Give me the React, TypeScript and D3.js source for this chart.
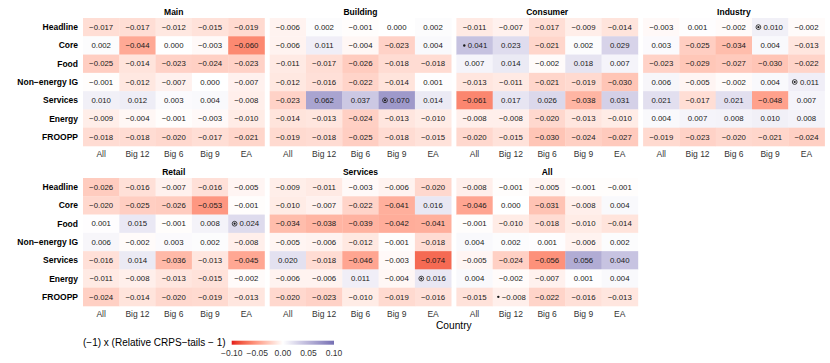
// heatmap of relative CRPS-tails by sector panel, drawn with d3 inside react
import * as d3 from "d3";
import { useRef, useEffect } from "react";

// column and row categories
const countries = ["All", "Big 12", "Big 6", "Big 9", "EA"];
const variables = ["Headline", "Core", "Food", "Non\u2212energy IG", "Services", "Energy", "FROOPP"];
const panels = ["Main", "Building", "Consumer", "Industry", "Retail", "Services", "All"];

// values per panel, rows = variables, columns = countries
const mainValues = [
  [-0.017, -0.017, -0.012, -0.015, -0.019],
  [0.002, -0.044, 0.0, -0.003, -0.06],
  [-0.025, -0.014, -0.023, -0.024, -0.023],
  [-0.001, -0.012, -0.007, 0.0, -0.007],
  [0.01, 0.012, 0.003, 0.004, -0.008],
  [-0.009, -0.004, -0.001, -0.003, -0.01],
  [-0.018, -0.018, -0.02, -0.017, -0.021],
];
const buildingValues = [
  [-0.006, 0.002, -0.001, 0.0, 0.002],
  [-0.006, 0.011, -0.004, -0.023, 0.004],
  [-0.011, -0.017, -0.026, -0.018, -0.018],
  [-0.012, -0.016, -0.022, -0.014, 0.001],
  [-0.023, 0.062, 0.037, 0.07, 0.014],
  [-0.014, -0.013, -0.024, -0.013, -0.01],
  [-0.019, -0.018, -0.025, -0.018, -0.015],
];
const consumerValues = [
  [-0.011, -0.007, -0.017, -0.009, -0.014],
  [0.041, 0.023, -0.021, 0.002, 0.029],
  [0.007, 0.014, -0.002, 0.018, 0.007],
  [-0.013, -0.011, -0.021, -0.019, -0.03],
  [-0.061, 0.017, 0.026, -0.038, 0.031],
  [-0.008, -0.008, -0.02, -0.013, -0.01],
  [-0.02, -0.015, -0.03, -0.024, -0.027],
];
const industryValues = [
  [-0.003, 0.001, -0.002, 0.01, -0.002],
  [0.003, -0.025, -0.034, 0.004, -0.013],
  [-0.023, -0.029, -0.027, -0.03, -0.022],
  [0.006, -0.005, -0.002, 0.004, 0.011],
  [0.021, -0.017, 0.021, -0.048, 0.007],
  [0.004, 0.007, 0.008, 0.01, 0.008],
  [-0.019, -0.023, -0.02, -0.021, -0.024],
];
const retailValues = [
  [-0.026, -0.016, -0.007, -0.016, -0.005],
  [-0.02, -0.025, -0.026, -0.053, -0.001],
  [0.001, 0.015, -0.001, 0.008, 0.024],
  [0.006, -0.002, 0.003, 0.002, -0.008],
  [-0.016, 0.014, -0.036, -0.013, -0.045],
  [-0.011, -0.008, -0.013, -0.015, -0.002],
  [-0.024, -0.014, -0.02, -0.019, -0.013],
];
const servicesValues = [
  [-0.009, -0.011, -0.003, -0.006, -0.02],
  [-0.01, -0.007, -0.022, -0.041, 0.016],
  [-0.034, -0.038, -0.039, -0.042, -0.041],
  [-0.005, -0.006, -0.012, -0.001, -0.018],
  [0.02, -0.018, -0.046, -0.003, -0.074],
  [-0.006, -0.006, 0.011, -0.004, 0.016],
  [-0.02, -0.023, -0.01, -0.019, -0.016],
];
const allValues = [
  [-0.008, -0.001, -0.005, -0.001, -0.001],
  [-0.046, 0.0, -0.031, -0.008, 0.004],
  [-0.001, -0.01, -0.018, -0.01, -0.014],
  [0.004, 0.002, 0.001, -0.006, 0.002],
  [-0.005, -0.024, -0.056, 0.056, 0.04],
  [0.004, -0.002, -0.007, 0.001, 0.004],
  [-0.015, -0.008, -0.022, -0.016, -0.013],
];

// significance markers: [panel, variable, country]
const circleMarks = [
  ["Building", "Services", "Big 9"],
  ["Industry", "Headline", "Big 9"],
  ["Industry", "Non\u2212energy IG", "EA"],
  ["Retail", "Food", "EA"],
  ["Services", "Energy", "EA"],
];
const dotMarks = [
  ["Consumer", "Core", "All"],
  ["All", "FROOPP", "Big 12"],
];

const legendTicks = [-0.1, -0.05, 0, 0.05, 0.1];

const valuesByPanel = [mainValues, buildingValues, consumerValues, industryValues, retailValues, servicesValues, allValues];

export default function App() {
  const svgRef = useRef(null);

  useEffect(() => {
    const svg = d3.select(svgRef.current);
    svg.selectAll("*").remove();

    const font = "'Liberation Sans', Arial, Helvetica, sans-serif";
    const panelW = 181.5;
    const panelH = 128;
    const left = 83;
    const stepX = 186.7;
    const tops = [18, 178];

    // diverging colour scale red - white - purple
    const color = d3.scaleLinear<string>()
      .domain([-0.1, 0, 0.1])
      .range(["#E41A1C", "#ffffff", "#7570B3"])
      .interpolate(d3.interpolateLab)
      .clamp(true);

    const fmt = d3.format(".3f");
    const cellFs = 7.8;

    panels.forEach((name, i) => {
      const col = i % 4;
      const row = Math.floor(i / 4);
      const px = left + col * stepX;
      const py = tops[row];
      const x = d3.scaleBand().domain(countries).range([px, px + panelW]);
      const y = d3.scaleBand().domain(variables).range([py, py + panelH]);
      const vals = valuesByPanel[i];
      const cells = variables.flatMap((v, r) => countries.map((c, k) => ({ v, c, value: vals[r][k] })));

      const g = svg.append("g");

      g.selectAll("rect").data(cells).enter().append("rect")
        .attr("x", d => x(d.c))
        .attr("y", d => y(d.v))
        .attr("width", x.bandwidth() + 0.3)
        .attr("height", y.bandwidth() + 0.3)
        .attr("fill", d => color(d.value));

      cells.forEach(d => {
        const cx = x(d.c) + x.bandwidth() / 2;
        const cy = y(d.v) + y.bandwidth() / 2;
        const isCircle = circleMarks.some(m => m[0] === name && m[1] === d.v && m[2] === d.c);
        const isDot = dotMarks.some(m => m[0] === name && m[1] === d.v && m[2] === d.c);
        const shift = isCircle || isDot ? 3 : 0;
        const txt = fmt(d.value);
        g.append("text")
          .attr("x", cx + shift).attr("y", cy).attr("dy", "0.35em")
          .attr("text-anchor", "middle")
          .style("font-family", font).style("font-size", cellFs + "px")
          .attr("fill", "#1a1a1a")
          .text(txt);
        const w = (d.value < 0 ? 3.086 : 2.5) * cellFs;
        if (isCircle) {
          const mx = cx + shift - w / 2 - 5;
          g.append("circle").attr("cx", mx).attr("cy", cy).attr("r", 2.4)
            .attr("fill", "none").attr("stroke", "#1a1a1a").attr("stroke-width", 0.8);
          g.append("circle").attr("cx", mx).attr("cy", cy).attr("r", 1.1).attr("fill", "#1a1a1a");
        }
        if (isDot) {
          const mx = cx + shift - w / 2 - 3.5;
          g.append("circle").attr("cx", mx).attr("cy", cy).attr("r", 1.2).attr("fill", "#1a1a1a");
        }
      });

      // strip title
      g.append("text")
        .attr("x", px + panelW / 2).attr("y", py - 3.2)
        .attr("text-anchor", "middle")
        .style("font-family", font).style("font-size", "8.5px").style("font-weight", "700")
        .text(name);

      // x labels under each panel
      countries.forEach(c => {
        g.append("text")
          .attr("x", x(c) + x.bandwidth() / 2).attr("y", py + panelH + 11)
          .attr("text-anchor", "middle")
          .style("font-family", font).style("font-size", "8.5px")
          .attr("fill", "#333")
          .text(c);
      });

      // row labels only on first column
      if (col === 0) {
        variables.forEach(v => {
          g.append("text")
            .attr("x", 78).attr("y", y(v) + y.bandwidth() / 2).attr("dy", "0.35em")
            .attr("text-anchor", "end")
            .style("font-family", font).style("font-size", "8.5px").style("font-weight", "700")
            .text(v);
        });
      }
    });

    // axis title
    svg.append("text")
      .attr("x", left + (3 * stepX + panelW) / 2).attr("y", 329)
      .attr("text-anchor", "middle")
      .style("font-family", font).style("font-size", "10.2px")
      .text("Country");

    // legend
    const lx = d3.scaleLinear().domain([-0.1, 0.1]).range([231.7, 334]);
    const grad = svg.append("defs").append("linearGradient").attr("id", "lg");
    d3.range(0, 1.0001, 0.05).forEach(t => {
      grad.append("stop").attr("offset", t).attr("stop-color", color(-0.1 + 0.2 * t));
    });
    svg.append("rect")
      .attr("x", lx(-0.1)).attr("y", 340.7)
      .attr("width", lx(0.1) - lx(-0.1)).attr("height", 4)
      .attr("fill", "url(#lg)");

    svg.append("text")
      .attr("x", 83).attr("y", 346)
      .style("font-family", font).style("font-size", "10px")
      .text("(\u22121) x (Relative CRPS\u2212tails \u2212 1)");

    legendTicks.forEach(t => {
      svg.append("text")
        .attr("x", lx(t)).attr("y", 356)
        .attr("text-anchor", "middle")
        .style("font-family", font).style("font-size", "8.5px")
        .attr("fill", "#333")
        .text(d3.format(".2f")(t));
    });
  }, []);

  return (
    <svg ref={svgRef} width={830} height={363}
      style={{ position: "absolute", left: 0, top: 0, background: "#fff" }} />
  );
}
